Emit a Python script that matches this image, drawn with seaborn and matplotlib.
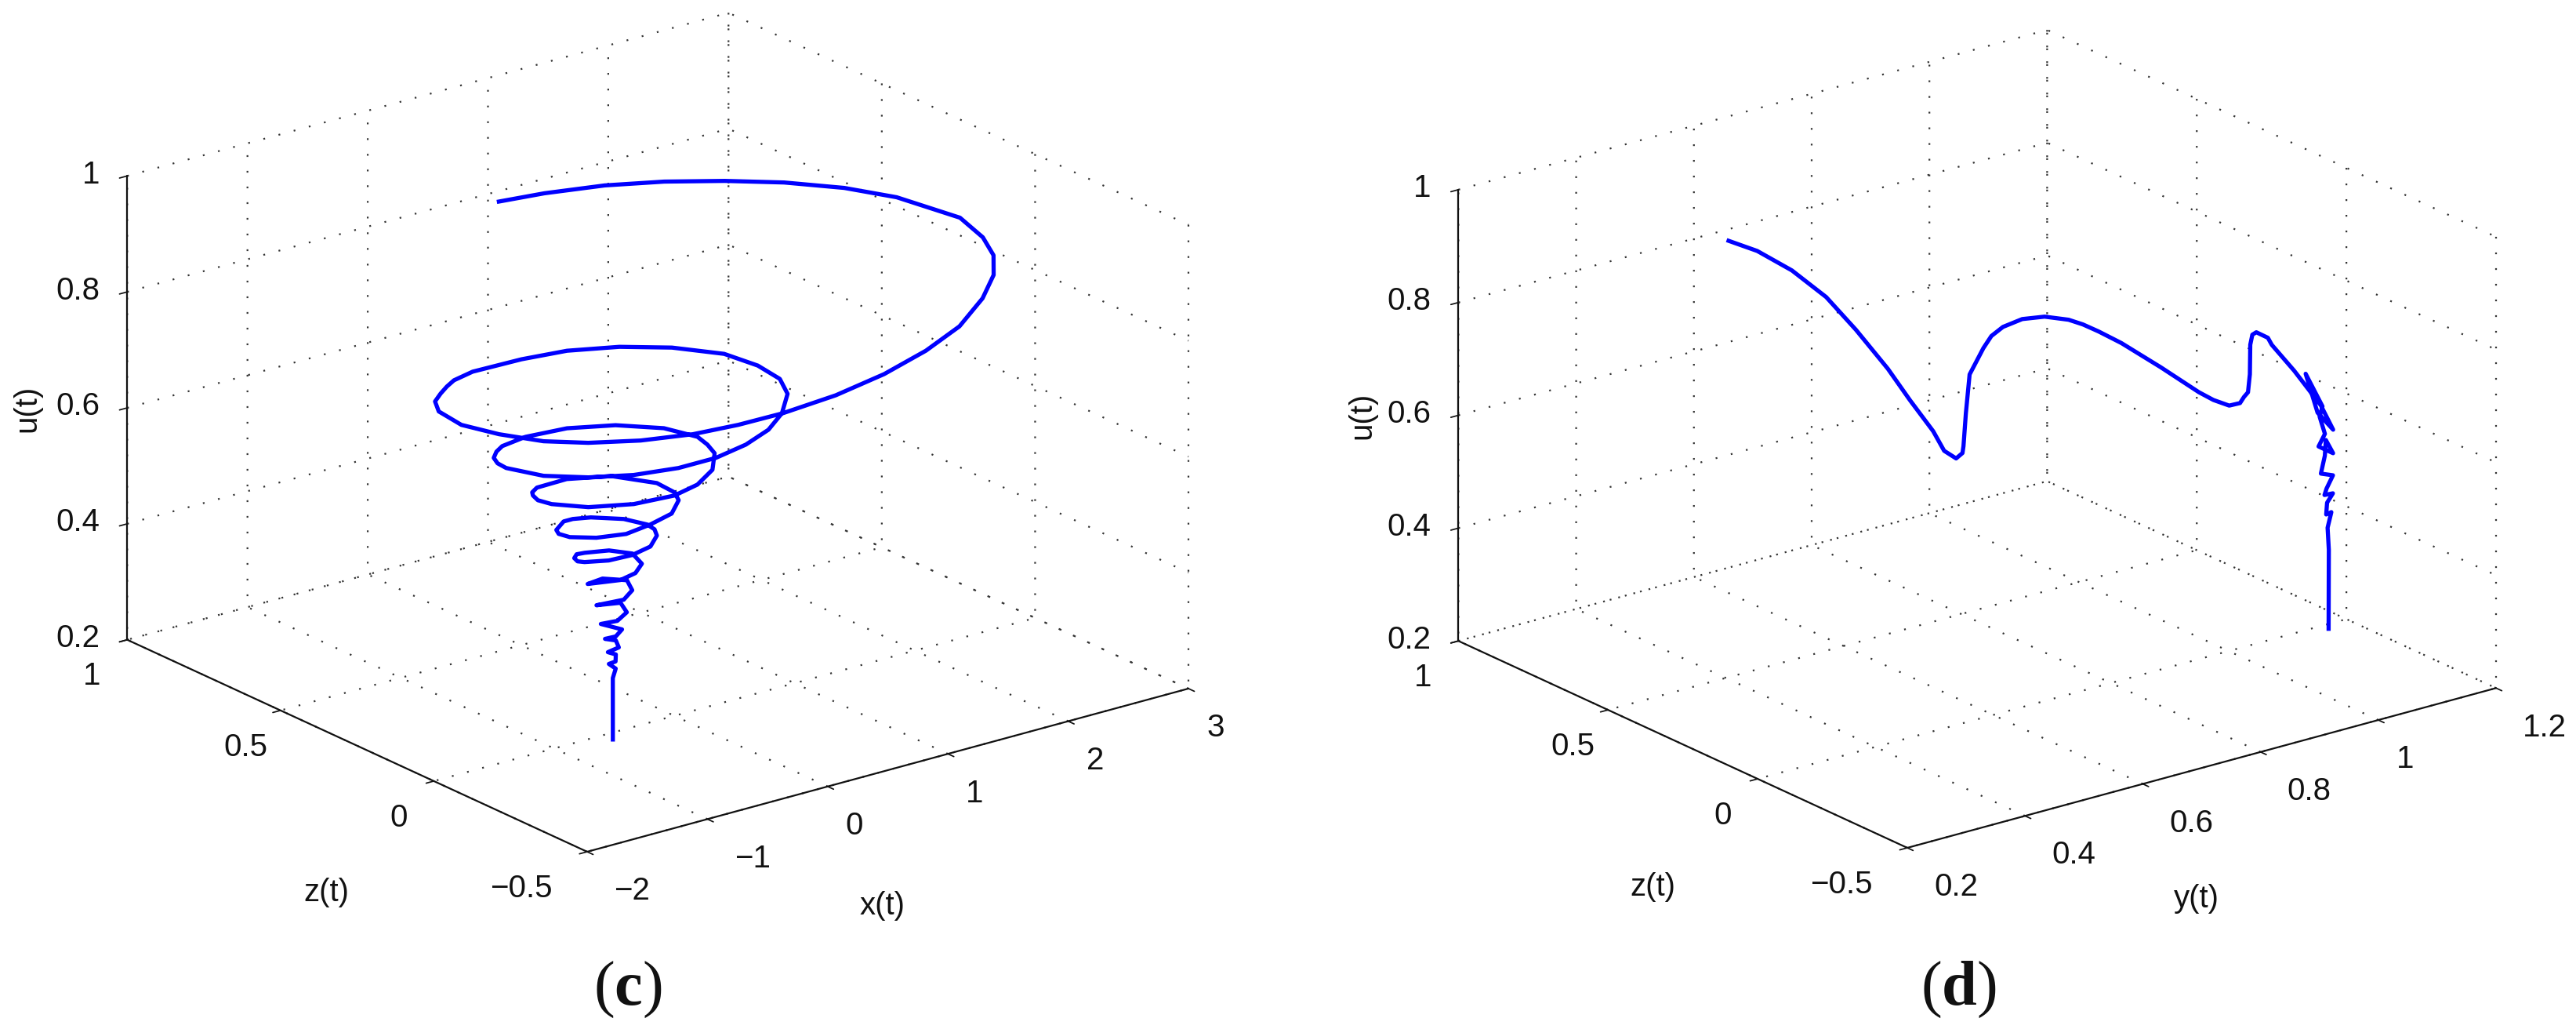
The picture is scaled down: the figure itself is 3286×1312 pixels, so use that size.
"""Two 3D trajectories, panels (c) and (d)"""
import matplotlib
matplotlib.use('Agg')
import matplotlib.pyplot as plt
import seaborn as sns
from mpl_toolkits.mplot3d import proj3d

# values; depth along the line of sight is an estimate
x_c = [-0.163, 0.217, 0.655, 1.043, 1.400, 1.726, 2.012, 2.246, 2.411, 2.374, 2.292, 2.135, 1.877, 1.504, 1.118, 0.699,
       0.238, -0.208, -0.541, -0.853, -1.165, -1.433, -1.616, -1.736, -1.794, -1.727, -1.600, -1.462, -1.336, -1.208,
       -0.999, -0.570, -0.202, 0.150, 0.449, 0.684, 0.760, 0.757, 0.661, 0.443, 0.219, -0.035, -0.310, -0.588, -0.869,
       -1.100, -1.284, -1.358, -1.330, -1.275, -1.171, -1.064, -0.805, -0.457, -0.135, 0.117, 0.228, 0.211, 0.164,
       -0.002, -0.216, -0.427, -0.705, -0.945, -1.069, -1.084, -1.036, -0.991, -0.893, -0.607, -0.306, -0.115, -0.095,
       -0.130, -0.285, -0.488, -0.689, -0.855, -0.954, -0.962, -0.910, -0.742, -0.653, -0.521, -0.334, -0.241, -0.244,
       -0.283, -0.408, -0.567, -0.719, -0.831, -0.846, -0.807, -0.731, -0.659, -0.472, -0.352, -0.385, -0.492, -0.616,
       -0.800, -0.628, -0.486, -0.539, -0.658, -0.798, -0.611, -0.653, -0.734, -0.823, -0.741, -0.722, -0.773, -0.701,
       -0.699, -0.777, -0.729, -0.744, -0.774, -0.758, -0.782, -0.769]
z_c = [0.515, 0.509, 0.484, 0.442, 0.385, 0.319, 0.235, 0.156, 0.014, -0.075, -0.142, -0.204, -0.269, -0.340, -0.382,
       -0.410, -0.433, -0.436, -0.421, -0.395, -0.347, -0.281, -0.207, -0.109, -0.009, 0.091, 0.153, 0.189, 0.218,
       0.245, 0.266, 0.275, 0.271, 0.238, 0.184, 0.106, 0.026, -0.047, -0.110, -0.177, -0.221, -0.247, -0.257, -0.244,
       -0.208, -0.151, -0.077, 0.016, 0.055, 0.089, 0.121, 0.144, 0.170, 0.171, 0.139, 0.080, 0.014, -0.025, -0.067,
       -0.125, -0.160, -0.168, -0.144, -0.090, -0.019, 0.020, 0.055, 0.075, 0.098, 0.113, 0.085, 0.012, -0.038, -0.065,
       -0.103, -0.113, -0.113, -0.081, -0.033, 0.000, 0.028, 0.070, 0.075, 0.068, 0.034, -0.006, -0.031, -0.054, -0.082,
       -0.085, -0.068, -0.033, -0.016, 0.010, 0.032, 0.034, 0.028, -0.001, -0.045, -0.066, -0.066, -0.031, -0.012,
       -0.036, -0.074, -0.093, -0.059, -0.064, -0.101, -0.102, -0.083, -0.120, -0.092, -0.077, -0.084, -0.093, -0.088,
       -0.095, -0.100, -0.090, -0.106, -0.106, -0.101]
u_c = [0.970, 0.965, 0.960, 0.955, 0.950, 0.945, 0.940, 0.930, 0.920, 0.910, 0.900, 0.890, 0.880, 0.870, 0.860, 0.850,
       0.845, 0.840, 0.835, 0.830, 0.825, 0.820, 0.815, 0.810, 0.805, 0.800, 0.795, 0.792, 0.790, 0.787, 0.785, 0.780,
       0.775, 0.770, 0.765, 0.760, 0.755, 0.750, 0.745, 0.740, 0.735, 0.730, 0.725, 0.720, 0.715, 0.710, 0.705, 0.700,
       0.697, 0.695, 0.692, 0.690, 0.685, 0.680, 0.675, 0.670, 0.665, 0.662, 0.660, 0.655, 0.650, 0.645, 0.640, 0.635,
       0.630, 0.628, 0.625, 0.623, 0.620, 0.615, 0.610, 0.605, 0.600, 0.595, 0.590, 0.585, 0.580, 0.575, 0.570, 0.568,
       0.565, 0.560, 0.558, 0.555, 0.550, 0.545, 0.543, 0.540, 0.535, 0.530, 0.525, 0.520, 0.518, 0.515, 0.512, 0.510,
       0.505, 0.500, 0.495, 0.490, 0.485, 0.480, 0.475, 0.470, 0.465, 0.460, 0.450, 0.445, 0.440, 0.430, 0.425, 0.420,
       0.400, 0.395, 0.390, 0.380, 0.375, 0.370, 0.360, 0.355, 0.350, 0.335, 0.2235]

y_d = [0.409, 0.427, 0.432, 0.416, 0.398, 0.381, 0.358, 0.337, 0.319, 0.318, 0.340, 0.361, 0.453, 0.560, 0.649, 0.692,
       0.732, 0.780, 0.820, 0.845, 0.856, 0.863, 0.867, 0.866, 0.862, 0.870, 0.883, 0.907, 0.932, 0.951, 1.004, 1.086,
       1.118, 1.141, 1.151, 1.148, 1.125, 1.086, 1.056, 1.088, 1.176, 1.138, 1.124, 1.103, 1.080, 1.093, 1.129, 1.111,
       1.085, 1.107, 1.089, 1.085, 1.111, 1.096, 1.094, 1.118, 1.104, 1.100, 1.123]
z_d = [0.515, 0.448, 0.342, 0.196, 0.061, -0.079, -0.198, -0.317, -0.389, -0.431, -0.409, -0.371, -0.198, 0.000, 0.129,
       0.187, 0.227, 0.257, 0.261, 0.230, 0.204, 0.165, 0.097, -0.037, -0.172, -0.205, -0.232, -0.221, -0.185, -0.161,
       -0.063, 0.097, 0.153, 0.185, 0.166, 0.147, 0.027, -0.139, -0.239, -0.124, 0.089, -0.042, -0.060, -0.119, -0.143,
       -0.166, -0.071, -0.103, -0.141, -0.138, -0.152, -0.153, -0.130, -0.140, -0.141, -0.111, -0.126, -0.138, -0.092]
u_d = [0.970, 0.962, 0.952, 0.945, 0.925, 0.895, 0.875, 0.855, 0.843, 0.840, 0.838, 0.835, 0.825, 0.815, 0.805, 0.800,
       0.795, 0.788, 0.780, 0.775, 0.770, 0.765, 0.760, 0.750, 0.740, 0.732, 0.725, 0.720, 0.715, 0.712, 0.705, 0.695,
       0.690, 0.680, 0.672, 0.665, 0.655, 0.645, 0.635, 0.628, 0.620, 0.605, 0.595, 0.585, 0.575, 0.565, 0.555, 0.540,
       0.525, 0.515, 0.500, 0.490, 0.480, 0.470, 0.450, 0.440, 0.420, 0.385, 0.2235]

x_ticks = [-2, -1, 0, 1, 2, 3]
x_labels = ['\u22122', '\u22121', '0', '1', '2', '3']
y_ticks = [0.2, 0.4, 0.6, 0.8, 1.0, 1.2]
y_labels = ['0.2', '0.4', '0.6', '0.8', '1', '1.2']
z_ticks = [-0.5, 0, 0.5, 1]
z_labels = ['\u22120.5', '0', '0.5', '1']
u_ticks = [0.2, 0.4, 0.6, 0.8, 1.0]
u_labels = ['0.2', '0.4', '0.6', '0.8', '1']

W, H = 3287, 1312
DOTS = (0, (1, 8))
INK = '#111111'

sns.set_theme(style='ticks')
plt.rcParams['font.family'] = ['Liberation Sans', 'DejaVu Sans']
plt.rcParams['mathtext.fontset'] = 'custom'
plt.rcParams['mathtext.bf'] = 'Liberation Serif:bold'
plt.rcParams['mathtext.rm'] = 'Liberation Serif'


def place_axes(ax, a_lim, front, right):
    """Scale and shift the square axes so the floor corners land on the given pixels"""
    m = ax.get_proj()
    ax.set_position([0, 0, 1000 / W, 1000 / H])
    ax.apply_aspect()
    fx, fy, _ = proj3d.proj_transform(a_lim[0], -0.5, 0.2, m)
    rx, ry, _ = proj3d.proj_transform(a_lim[1], -0.5, 0.2, m)
    (fpx, fpy), (rpx, rpy) = ax.transData.transform([(fx, fy), (rx, ry)])
    scale = (right[0] - front[0]) / (rpx - fpx)
    left = front[0] - fpx * scale
    bottom = (H - front[1]) - fpy * scale
    ax.set_position([left / W, bottom / H, 1000 * scale / W, 1000 * scale / H])


def px_text(fig, x, y, s, **kw):
    return fig.text(x / W, 1 - y / H, s, ha='center', va='center', color=INK, **kw)


fig = plt.figure(figsize=(W / 100, H / 100), dpi=100, facecolor='white')

panels = [
    (x_c, z_c, u_c, x_ticks, x_labels, (-2, 3), (968, 965, 633), (749, 1086), (1516, 877)),
    (y_d, z_d, u_d, y_ticks, y_labels, (0.2, 1.2), (948, 942, 616), (2433, 1081), (3184, 877)),
]
for a, b, u, a_ticks, a_labels, a_lim, aspect, front, right in panels:
    ax = fig.add_subplot(projection='3d', proj_type='ortho', computed_zorder=False)
    ax.view_init(elev=20.7, azim=-127.5)
    ax.set_box_aspect(aspect)
    ax.patch.set_alpha(0)
    ax.grid(True)
    for axis in (ax.xaxis, ax.yaxis, ax.zaxis):
        axis.set_pane_color((1, 1, 1, 0))
        axis.pane.set_edgecolor('none')
        axis.line.set_color(INK)
        axis.line.set_linewidth(1.6)
        axis._axinfo['grid'].update(color='#333333', linewidth=1.6, linestyle=DOTS)
        # negative factor: the stubs point away from the box, as in the reference
        axis._axinfo['tick'].update(inward_factor=0.0, outward_factor=-0.16)
    ax.set_xlim(a_lim[0], a_lim[1], view_margin=0)
    ax.set_ylim(-0.5, 1, view_margin=0)
    ax.set_zlim(0.2, 1, view_margin=0)
    ax.set_xticks(a_ticks, a_labels, fontsize=29, va='center')
    ax.set_yticks(z_ticks, z_labels, fontsize=29, va='center')
    ax.set_zticks(u_ticks, u_labels, fontsize=29, va='center', ha='right')
    # the labels next to the front corner lean away from it
    for label in ax.get_xticklabels():
        if len(label.get_text()) > 1:
            label.set_ha('left')
    ax.get_yticklabels()[0].set_ha('right')
    ax.tick_params(colors=INK, width=1.4)
    ax.tick_params(axis='x', pad=24)
    ax.tick_params(axis='y', pad=24)
    ax.tick_params(axis='z', pad=6)
    ax.zaxis.set_ticks_position('upper')
    ax.plot(a, b, u, color='#0000FF', linewidth=3.8, solid_joinstyle='round', solid_capstyle='butt')
    place_axes(ax, a_lim, front, right)

# axis captions sit straight under the floor edges, which the 3D axis labels cannot do
px_text(fig, 416, 1138, 'z(t)', fontsize=29)
px_text(fig, 1126, 1155, 'x(t)', fontsize=29)
px_text(fig, 34, 521, 'u(t)', fontsize=29, rotation=90)
px_text(fig, 2108, 1131, 'z(t)', fontsize=29)
px_text(fig, 2802, 1146, 'y(t)', fontsize=29)
px_text(fig, 1737, 530, 'u(t)', fontsize=29, rotation=90)

px_text(fig, 801, 1262, r'($\mathbf{c}$)', family='Liberation Serif', fontsize=58)
px_text(fig, 2498, 1262, r'($\mathbf{d}$)', family='Liberation Serif', fontsize=58)

fig.savefig('out.png', dpi=100, facecolor='white')
